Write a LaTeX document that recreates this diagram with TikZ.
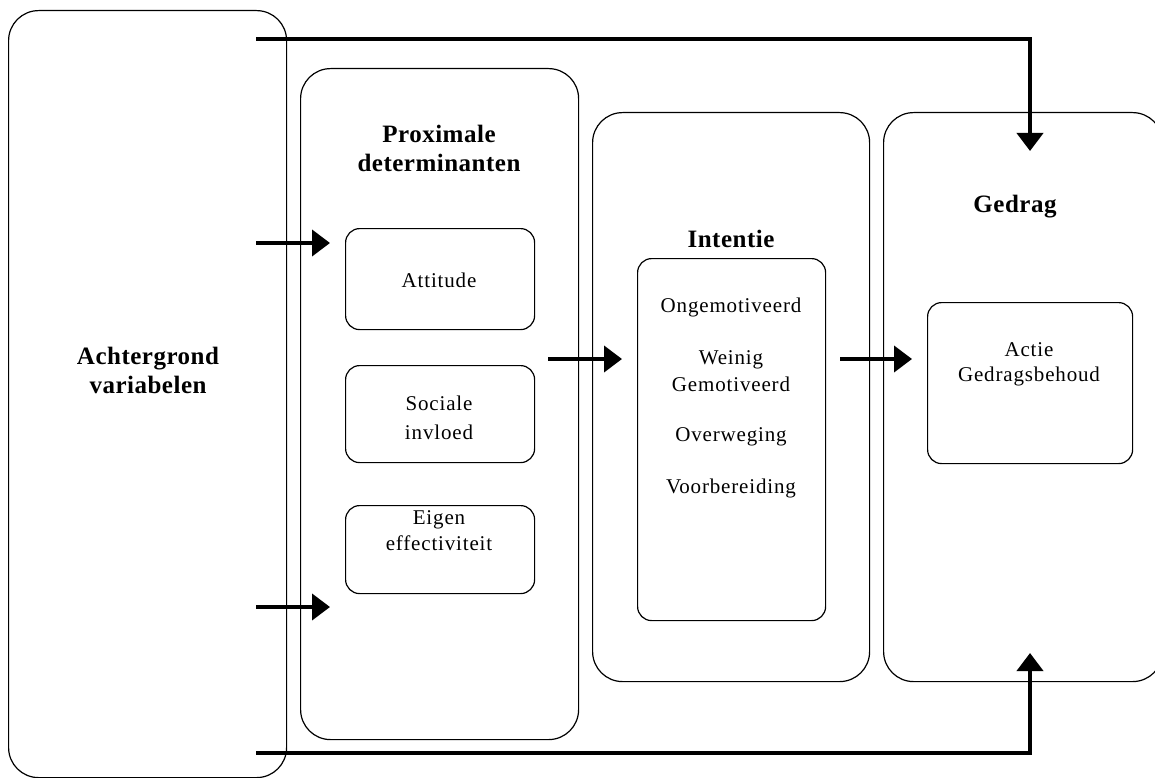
\documentclass[tikz,border=0pt]{standalone}
\usepackage{fontspec}
\setmainfont{Liberation Serif}
\newfontfamily\spacedserif[LetterSpace=4]{Liberation Serif}
\newfontfamily\spacedbold[LetterSpace=2,BoldFont={Liberation Serif Bold}]{Liberation Serif}
\usetikzlibrary{arrows.meta}
\begin{document}
\begin{tikzpicture}[x=1pt,y=-1pt,
  bigbox/.style={draw, line width=1.2pt, rounded corners=30pt, inner sep=0pt, anchor=north west},
  smallbox/.style={draw, line width=1.2pt, rounded corners=14pt, inner sep=0pt, anchor=north west},
  flow/.style={line width=4pt, -{Triangle[length=18pt,width=26pt]}},
  title/.style={font=\spacedbold\fontsize{25}{29}\selectfont\bfseries, align=center},
  lbl/.style={font=\spacedserif\fontsize{21}{27}\selectfont, align=center}]
\useasboundingbox (0,0) rectangle (1155,778);
\clip (0,0) rectangle (1155,778);
% containers
\node[bigbox, minimum width=278pt, minimum height=767pt] (bg) at (8,10) {};
\node[bigbox, minimum width=278pt, minimum height=671pt] (prox) at (300,68) {};
\node[bigbox, minimum width=277pt, minimum height=569pt] (int) at (592,112) {};
\node[bigbox, minimum width=279pt, minimum height=569pt] (ged) at (883,112) {};
% inner boxes
\node[smallbox, minimum width=189pt, minimum height=101pt] (att) at (345,228) {};
\node[smallbox, minimum width=189pt, minimum height=97pt] (soc) at (345,365) {};
\node[smallbox, minimum width=189pt, minimum height=88pt] (eig) at (345,505) {};
\node[smallbox, minimum width=188pt, minimum height=362pt] (intin) at (637,258) {};
\node[smallbox, minimum width=205pt, minimum height=161pt] (gedin) at (927,302) {};
% titles
\node[title] (tbg) at (148,370) {Achtergrond\\variabelen};
\node[title] (tprox) at (439,148) {Proximale\\determinanten};
\node[title] (tint) at (731,239) {Intentie};
\node[title] (tged) at (1015,207) {Gedrag};
% labels
\node[lbl] (latt) at (439,280) {Attitude};
\node[lbl, font=\spacedserif\fontsize{21}{29}\selectfont] (lsoc) at (439,418) {Sociale\\invloed};
\node[lbl, font=\spacedserif\fontsize{21}{26}\selectfont] (leig) at (439,531) {Eigen\\effectiviteit};
\node[lbl] (l1) at (731,307) {Ongemotiveerd};
\node[lbl] (l2) at (731,371) {Weinig\\Gemotiveerd};
\node[lbl] (l3) at (731,437) {Overweging};
\node[lbl] (l4) at (731,488) {Voorbereiding};
\node[lbl, font=\spacedserif\fontsize{21}{25}\selectfont] (lged) at (1029,364) {Actie\\Gedragsbehoud};
% connector coordinates
\coordinate (s1) at (256,243); \coordinate (e1) at (330,243);
\coordinate (s2) at (256,607); \coordinate (e2) at (330,607);
\coordinate (s3) at (548,359); \coordinate (e3) at (622,359);
\coordinate (s4) at (840,359); \coordinate (e4) at (912,359);
\coordinate (st) at (256,39);  \coordinate (et) at (1030,151);
\coordinate (sb) at (256,753); \coordinate (eb) at (1030,653);
% connectors
\draw[flow] (s1) -- (e1);
\draw[flow] (s2) -- (e2);
\draw[flow] (s3) -- (e3);
\draw[flow] (s4) -- (e4);
\draw[flow] (st) -| (et);
\draw[flow] (sb) -| (eb);
\end{tikzpicture}
\end{document}
